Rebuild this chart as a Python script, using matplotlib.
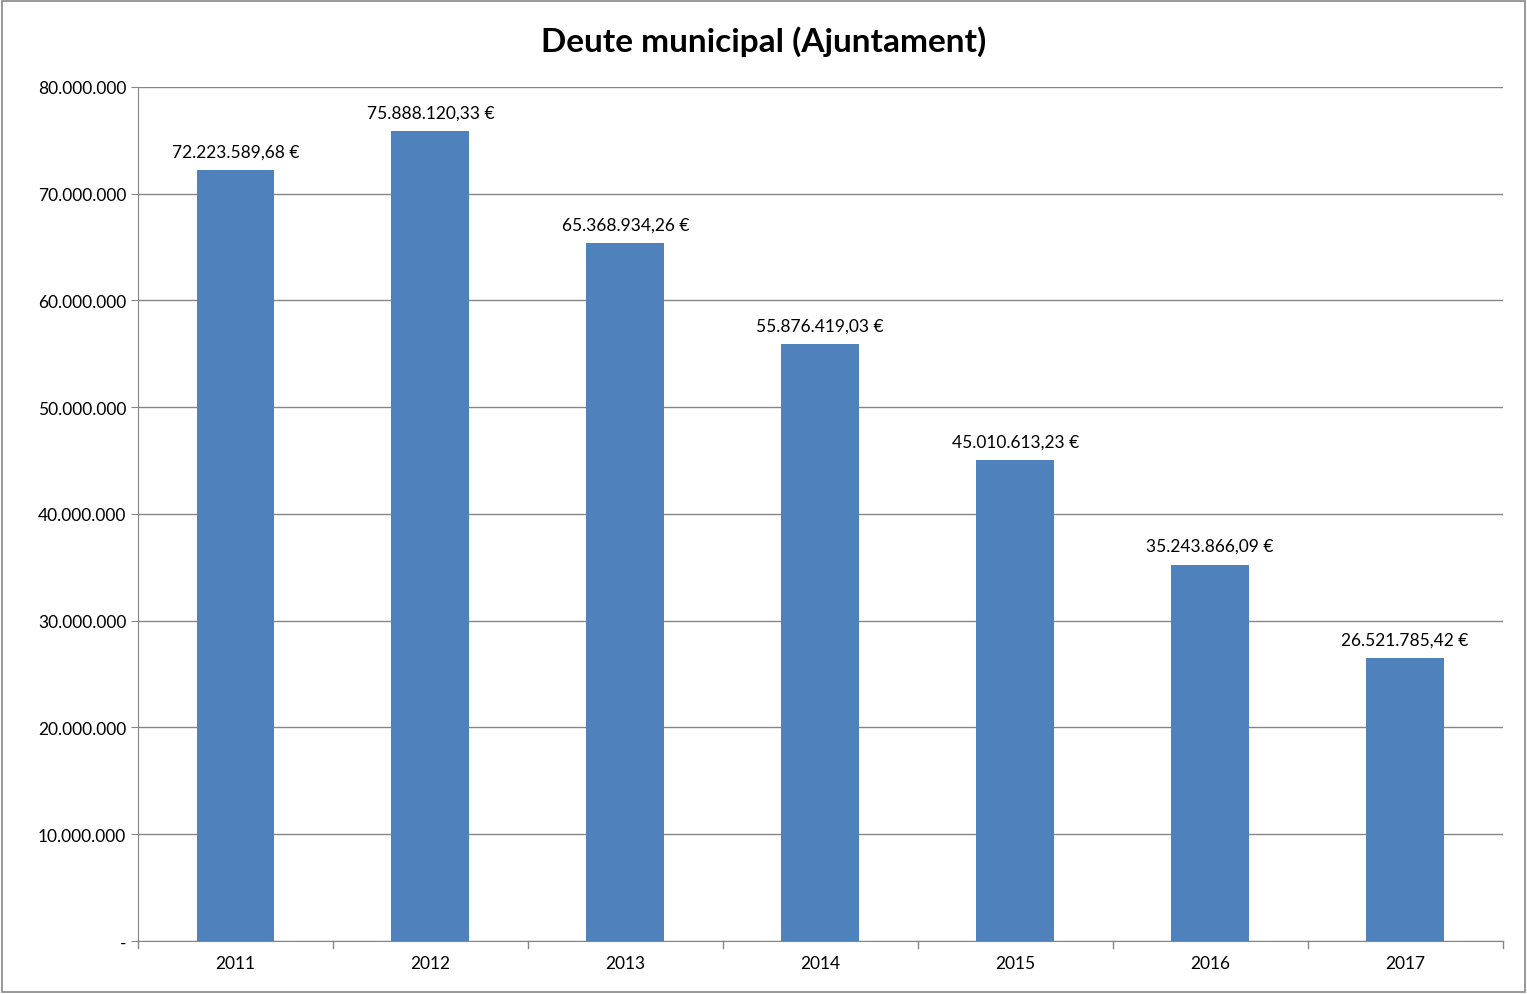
import matplotlib
matplotlib.use("Agg")
import matplotlib.pyplot as plt
from matplotlib.patches import Rectangle

years = ["2011", "2012", "2013", "2014", "2015", "2016", "2017"]
values = [72223589.68, 75888120.33, 65368934.26, 55876419.03, 45010613.23, 35243866.09, 26521785.42]
labels = ["72.223.589,68 €", "75.888.120,33 €", "65.368.934,26 €", "55.876.419,03 €",
          "45.010.613,23 €", "35.243.866,09 €", "26.521.785,42 €"]
yticks = list(range(0, 80000001, 10000000))
yticklabels = ["-"] + [f"{v:,}".replace(",", ".") for v in yticks[1:]]

plt.rcParams["font.family"] = "Lato"
fig = plt.figure(figsize=(15.27, 9.95), dpi=100)
fig.patches.append(Rectangle((0.0015, 0.002), 0.997, 0.996, transform=fig.transFigure,
                             fill=False, edgecolor="#868686", linewidth=1.2))
ax = fig.add_axes([0.0904, 0.0533, 0.8936, 0.8583])
x = list(range(len(years)))
ax.bar(x, values, width=0.4, color="#4F81BD", zorder=3)
for xi, v, l in zip(x, values, labels):
    ax.text(xi, v + 1000000, l, ha="center", va="bottom", fontsize=12.5)
ax.set_xlim(-0.5, len(years) - 0.5)
ax.set_ylim(0, 80000000)
ax.set_yticks(yticks)
ax.set_yticklabels(yticklabels, fontsize=12.5)
ax.set_xticks(x)
ax.set_xticklabels(years, fontsize=12.5)
ax.tick_params(axis="x", length=0, pad=10)
ax.tick_params(axis="y", length=5, color="#868686")
for b in [i - 0.5 for i in range(len(years) + 1)]:
    ax.plot([b, b], [0, -0.008 * 80000000], color="#868686", lw=1, clip_on=False)
ax.yaxis.grid(True, color="#868686", lw=1, zorder=0)
for s in ["top", "right"]:
    ax.spines[s].set_visible(False)
for s in ["left", "bottom"]:
    ax.spines[s].set_color("#868686")
fig.text(0.5, 0.958, "Deute municipal (Ajuntament)", ha="center", va="center",
         fontsize=24, fontweight="bold")
fig.savefig("out.png")
